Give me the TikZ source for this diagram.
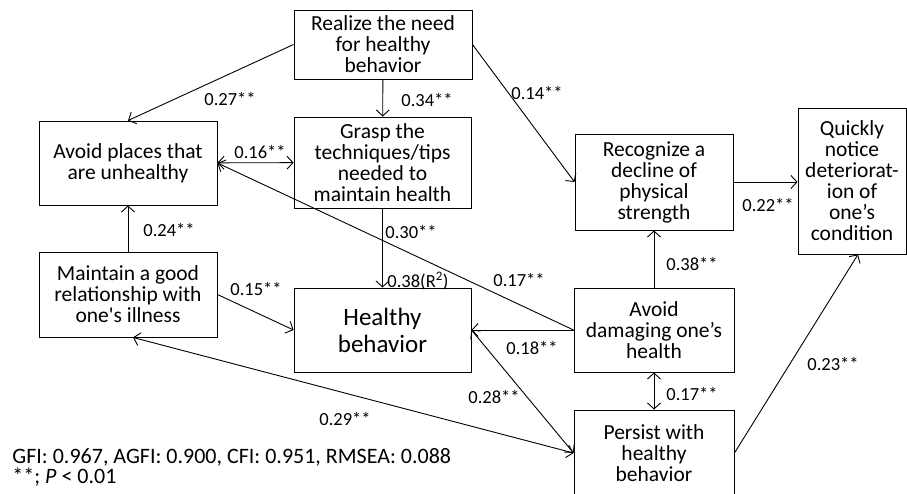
\documentclass[tikz,border=0pt]{standalone}
\usepackage{fontspec}
\newfontfamily\carlito{Carlito}
\usetikzlibrary{arrows.meta}
\newcommand{\boxfont}{\carlito\fontsize{21.5}{21}\selectfont}
\newcommand{\bigboxfont}{\carlito\fontsize{25}{27}\selectfont}
\newcommand{\labfont}{\carlito\fontsize{18.5}{18.5}\selectfont}
\newcommand{\notefont}{\carlito\fontsize{22}{22}\selectfont}

\begin{document}
\begin{tikzpicture}[x=1pt,y=-1pt,line width=0.9pt,
	box/.style={draw,align=center,inner sep=0pt,font=\boxfont},
	lab/.style={inner sep=0pt,font=\labfont},
	note/.style={anchor=base west,inner sep=0pt,font=\notefont},
	>={Straight Barb[length=6pt,width=13pt]}]
	\useasboundingbox (0,0) rectangle (907,494);
	\draw (383,44.5) node[box,minimum width=178,minimum height=69] (R) {Realize the need\\for healthy\\behavior}
	(382.5,162.5) node[box,minimum width=177,minimum height=91] (G) {Grasp the\\techniques/tips\\needed to\\maintain health};
	\draw (128,163) node[box,minimum width=178,minimum height=84] (AP) {Avoid places that\\are unhealthy}
	(128,294.5) node[box,minimum width=178,minimum height=85] (M) {Maintain a good\\relationship with\\one's illness};
	\draw (382.5,330) node[box,minimum width=177,minimum height=84,font=\bigboxfont] (H) {Healthy\\behavior};
	\draw (654,182) node[box,minimum width=158,minimum height=96] (Rc) {Recognize a\\decline of\\physical\\strength}
	(852,181) node[box,minimum width=108,minimum height=146] (Q) {Quickly\\notice\\deteriorat-\\ion of\\one’s\\condition};
	\draw (654,330) node[box,minimum width=160,minimum height=84] (AD) {Avoid\\damaging one’s\\health}
	(654,453) node[box,minimum width=160,minimum height=86] (P) {Persist with\\healthy\\behavior};
	% paths
	\draw[->] (R.west) -- (AP.north) node[lab] (w27) at (230,99) {0.27**};
	\draw[->] (R) -- (G) node[lab] (w34) at (427,100) {0.34**};
	\draw[->] (R.east) -- (Rc.west) node[lab] (w14) at (537,93) {0.14**};
	\draw[<->] (AP) -- (G) node[lab] (w16) at (260,152) {0.16**};
	\draw[->] (AD.west) -- (AP.east) node[lab] (w17a) at (519,280) {0.17**};
	\draw[->] (G) -- (H) node[lab] (w30) at (411,232) {0.30**}
		node[lab] (r2) at (418,281) {0.38(R\textsuperscript{2})};
	\draw[->] (M) -- (AP) node[lab] (w24) at (169,230) {0.24**};
	\draw[->] (M.east) -- (H.west) node[lab] (w15) at (256,289) {0.15**};
	\draw[->] (AD) -- (H) node[lab] (w18) at (532,348) {0.18**};
	\draw[->] (AD) -- (Rc) node[lab] (w38) at (692,264) {0.38**};
	\draw[->] (Rc.east) -- (Rc.east -| Q.west) node[lab] (w22) at (768,205) {0.22**};
	\draw[<->] (AD) -- (P) node[lab] (w17b) at (692,394) {0.17**};
	\draw[<->] ([xshift=5pt]M.south) -- (P.west) node[lab] (w29) at (345,419) {0.29**};
	\draw[<->] (H.east) -- (P.west) node[lab] (w28) at (494,397) {0.28**};
	\draw[->] (P.east) -- ([xshift=6pt]Q.south) node[lab] (w23) at (833,364) {0.23**};
	% fit indices
	\node[note] (fit) at (12,463) {GFI: 0.967, AGFI: 0.900, CFI: 0.951, RMSEA: 0.088};
	\node[note] (sig) at (12,483) {**; \textit{P} < 0.01};
\end{tikzpicture}
\end{document}
